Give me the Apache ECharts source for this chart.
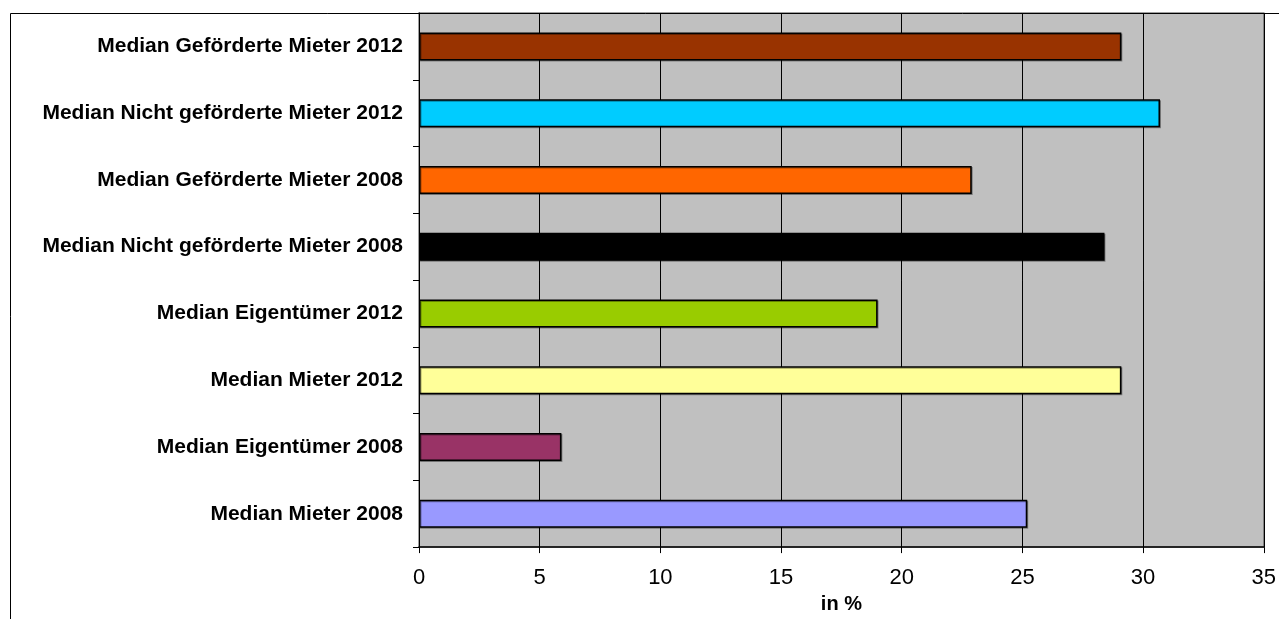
<!DOCTYPE html>
<html>
<head>
<meta charset="utf-8">
<script src="https://cdn.jsdelivr.net/npm/echarts@6/dist/echarts.min.js"></script>
<style>
html,body{margin:0;padding:0;background:#fff;}
#chart{width:1279px;height:619px;}
</style>
</head>
<body>
<div id="chart"></div>
<script>
// Categories listed top to bottom
const categories = [
  "Median Geförderte Mieter 2012",
  "Median Nicht geförderte Mieter 2012",
  "Median Geförderte Mieter 2008",
  "Median Nicht geförderte Mieter 2008",
  "Median Eigentümer 2012",
  "Median Mieter 2012",
  "Median Eigentümer 2008",
  "Median Mieter 2008"
];
const values = [29.1, 30.7, 22.9, 28.4, 19.0, 29.1, 5.9, 25.2];
const barColors = ["#993300", "#00CCFF", "#FF6600", "#000000", "#99CC00", "#FFFF99", "#993366", "#9999FF"];
const axisName = "in %";
const xMin = 0, xMax = 35, xStep = 5;

const chart = echarts.init(document.getElementById('chart'), null, {renderer: 'canvas'});
const font = "'Liberation Sans', Arial, sans-serif";
chart.setOption({
  animation: false,
  backgroundColor: '#ffffff',
  graphic: [{
    type: 'rect', z: 0, silent: true,
    shape: {x: 10.5, y: 13.5, width: 1300, height: 700},
    style: {fill: 'none', stroke: '#000', lineWidth: 1}
  }],
  grid: {
    left: 419, top: 13, right: 9, bottom: 65,
    show: true, backgroundColor: '#C0C0C0', borderColor: '#808080', borderWidth: 1.5
  },
  xAxis: {
    type: 'value', min: xMin, max: xMax, interval: xStep,
    name: axisName, nameLocation: 'middle', nameGap: 36,
    nameTextStyle: {fontFamily: font, fontWeight: 'bold', fontSize: 20, color: '#000'},
    axisLine: {show: true, onZero: false, lineStyle: {color: '#000', width: 1.5}},
    axisTick: {show: true, length: 6, lineStyle: {color: '#000'}},
    axisLabel: {fontFamily: font, fontSize: 22, color: '#000', margin: 20},
    splitLine: {show: true, lineStyle: {color: '#000', width: 1}}
  },
  yAxis: {
    type: 'category', data: categories, inverse: true,
    axisLine: {show: true, lineStyle: {color: '#000', width: 1}},
    axisTick: {show: true, length: 6, lineStyle: {color: '#000'}},
    axisLabel: {fontFamily: font, fontSize: 21, fontWeight: 'bold', color: '#000', margin: 16},
    splitLine: {show: false}
  },
  series: [{
    type: 'bar',
    barWidth: 28,
    data: values.map((v, i) => ({
      value: v,
      itemStyle: {color: barColors[i]}
    })),
    itemStyle: {
      borderColor: '#000', borderWidth: 1.5,
      shadowColor: 'rgba(0,0,0,0.35)', shadowOffsetX: 1, shadowOffsetY: 1, shadowBlur: 0
    }
  }]
});
</script>
</body>
</html>
